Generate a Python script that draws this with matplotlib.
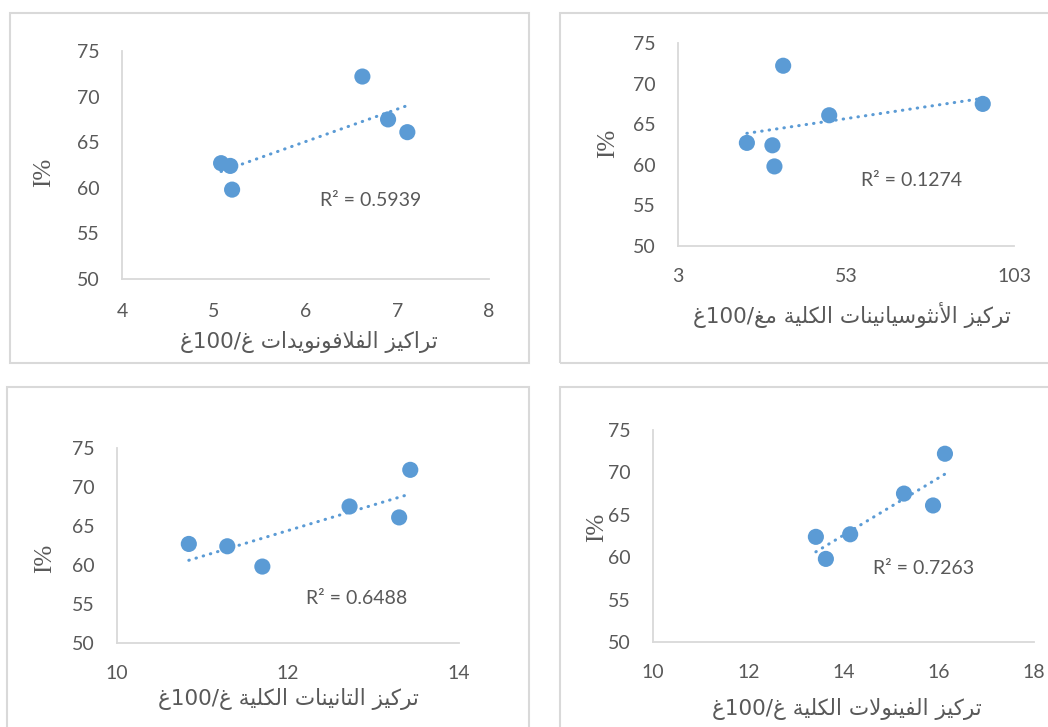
import numpy as np
import matplotlib
matplotlib.use("Agg")
import matplotlib.pyplot as plt
from matplotlib.patches import Rectangle

# ---------------- data ----------------
I_percent = [72.2, 67.5, 66.1, 62.7, 62.4, 59.8]
flavonoids = [6.62, 6.90, 7.11, 5.08, 5.18, 5.20]
anthocyanins = [34.3, 93.7, 48.0, 23.5, 31.1, 31.7]
tannins = [13.43, 12.72, 13.30, 10.84, 11.29, 11.70]
phenols = [16.13, 15.27, 15.88, 14.14, 13.42, 13.63]

r2_labels = ["R² = 0.5939", "R² = 0.1274", "R² = 0.6488", "R² = 0.7263"]
x_titles = [
    "تراكيز الفلافونويدات غ/100غ",
    "تركيز الأنثوسيانينات الكلية مغ/100غ",
    "تركيز التانينات الكلية غ/100غ",
    "تركيز الفينولات الكلية غ/100غ",
]
y_title = "I%"
x_ticks = [[4, 5, 6, 7, 8], [3, 53, 103], [10, 12, 14], [10, 12, 14, 16, 18]]
y_ticks = [50, 55, 60, 65, 70, 75]

# ---------------- simple Arabic shaping ----------------
FORMS = {
    '\u0627': ('\uFE8D', '\uFE8E', None, None),
    '\u0623': ('\uFE83', '\uFE84', None, None),
    '\u062A': ('\uFE95', '\uFE96', '\uFE97', '\uFE98'),
    '\u062B': ('\uFE99', '\uFE9A', '\uFE9B', '\uFE9C'),
    '\u062F': ('\uFEA9', '\uFEAA', None, None),
    '\u0631': ('\uFEAD', '\uFEAE', None, None),
    '\u0632': ('\uFEAF', '\uFEB0', None, None),
    '\u0633': ('\uFEB1', '\uFEB2', '\uFEB3', '\uFEB4'),
    '\u063A': ('\uFECD', '\uFECE', '\uFECF', '\uFED0'),
    '\u0641': ('\uFED1', '\uFED2', '\uFED3', '\uFED4'),
    '\u0643': ('\uFED9', '\uFEDA', '\uFEDB', '\uFEDC'),
    '\u0644': ('\uFEDD', '\uFEDE', '\uFEDF', '\uFEE0'),
    '\u0645': ('\uFEE1', '\uFEE2', '\uFEE3', '\uFEE4'),
    '\u0646': ('\uFEE5', '\uFEE6', '\uFEE7', '\uFEE8'),
    '\u0629': ('\uFE93', '\uFE94', None, None),
    '\u0648': ('\uFEED', '\uFEEE', None, None),
    '\u064A': ('\uFEF1', '\uFEF2', '\uFEF3', '\uFEF4'),
}
LAM_ALEF = {'\u0627': ('\uFEFB', '\uFEFC'), '\u0623': ('\uFEF7', '\uFEF8')}


def shape_arabic(text):
    chars = list(text)
    n = len(chars)
    res = []
    i = 0

    def dual(c):
        return c in FORMS and FORMS[c][2] is not None

    while i < n:
        c = chars[i]
        if c not in FORMS:
            res.append(c)
            i += 1
            continue
        prev = chars[i - 1] if i > 0 else None
        prev_joins = prev is not None and dual(prev)
        if c == '\u0644' and i + 1 < n and chars[i + 1] in LAM_ALEF:
            lig = LAM_ALEF[chars[i + 1]]
            res.append(lig[1] if prev_joins else lig[0])
            i += 2
            continue
        nxt = chars[i + 1] if i + 1 < n else None
        iso, fin, ini, med = FORMS[c]
        can_next = ini is not None and nxt is not None and nxt in FORMS
        if prev_joins and can_next:
            g = med
        elif prev_joins:
            g = fin
        elif can_next:
            g = ini
        else:
            g = iso
        res.append(g)
        i += 1
    # visual order: reverse, but keep digit runs left-to-right
    rev = res[::-1]
    out = []
    buf = []
    for ch in rev:
        if ch.isdigit():
            buf.append(ch)
        else:
            if buf:
                out.extend(buf[::-1])
                buf = []
            out.append(ch)
    if buf:
        out.extend(buf[::-1])
    return ''.join(out)


# ---------------- figure ----------------
W, H = 1048, 727
fig = plt.figure(figsize=(W / 100, H / 100), dpi=100)
fig.patch.set_facecolor('white')

def fx(x):
    return x / W

def fy(y):
    return 1 - y / H

BLUE = '#5B9BD5'
GRAY_TXT = '#595959'
SPINE = '#D9D9D9'
NUM_FONT = ['Lato', 'DejaVu Sans']

# panel borders (pixel boxes)
borders = [(10, 13, 529, 363), (560, 13, 1060, 363), (7, 387, 529, 740), (560, 387, 1060, 740)]
for (x0, y0, x1, y1) in borders:
    fig.patches.append(Rectangle((fx(x0), fy(y1)), fx(x1) - fx(x0), fy(y0) - fy(y1),
                                 transform=fig.transFigure, fill=False,
                                 edgecolor=SPINE, linewidth=1.5, zorder=0))

# axes boxes in pixels: (left, top, right, bottom)
boxes = [(122, 51, 489, 279), (678, 43, 1014, 246), (117, 448, 459, 643), (653, 430, 1034, 642)]
xs_all = [flavonoids, anthocyanins, tannins, phenols]
ylabel_pos = [(44, 172), (608, 143), (45, 558), (597, 527)]
xlabel_pos = [(309, 342), (852, 315), (288, 699), (847, 709)]
r2_pos = [(320, 200), (861, 181), (306, 599), (873, 569)]
x_pads = [17, 16, 15.5, 15.5]

for k in range(4):
    l, t, r, b = boxes[k]
    ax = fig.add_axes([fx(l), fy(b), fx(r) - fx(l), fy(t) - fy(b)])
    x = np.array(xs_all[k], dtype=float)
    y = np.array(I_percent, dtype=float)
    ax.scatter(x, y, s=135, color=BLUE, edgecolors='none', zorder=3, clip_on=False)
    m, c0 = np.polyfit(x, y, 1)
    xl = np.array([x.min(), x.max()])
    ax.plot(xl, m * xl + c0, color=BLUE, linewidth=2.2,
            linestyle=(0, (0.15, 2.3)), dash_capstyle='round', zorder=2)
    ax.set_xlim(x_ticks[k][0], x_ticks[k][-1])
    ax.set_ylim(y_ticks[0], y_ticks[-1])
    ax.set_xticks(x_ticks[k])
    ax.set_yticks(y_ticks)
    for s in ['top', 'right']:
        ax.spines[s].set_visible(False)
    for s in ['left', 'bottom']:
        ax.spines[s].set_color(SPINE)
        ax.spines[s].set_linewidth(1.3)
    ax.tick_params(axis='x', length=0, pad=x_pads[k], labelsize=14, labelcolor=GRAY_TXT)
    ax.tick_params(axis='y', length=0, pad=16, labelsize=14, labelcolor=GRAY_TXT)
    for lab in ax.get_xticklabels() + ax.get_yticklabels():
        lab.set_family(NUM_FONT)
    ax.patch.set_alpha(0)

    # R^2 text
    px, py = r2_pos[k]
    fig.text(fx(px), fy(py), r2_labels[k], ha='left', va='center', fontsize=14,
             color=GRAY_TXT, family=NUM_FONT)
    # x title
    px, py = xlabel_pos[k]
    fig.text(fx(px), fy(py), shape_arabic(x_titles[k]), ha='center', va='center',
             fontsize=15.5, color=GRAY_TXT, family=['DejaVu Sans'])
    # y title
    px, py = ylabel_pos[k]
    fig.text(fx(px), fy(py), y_title, ha='center', va='center', rotation=90,
             fontsize=18, color=GRAY_TXT, family=['Liberation Serif'])

fig.savefig('out.png', dpi=100, facecolor='white')
